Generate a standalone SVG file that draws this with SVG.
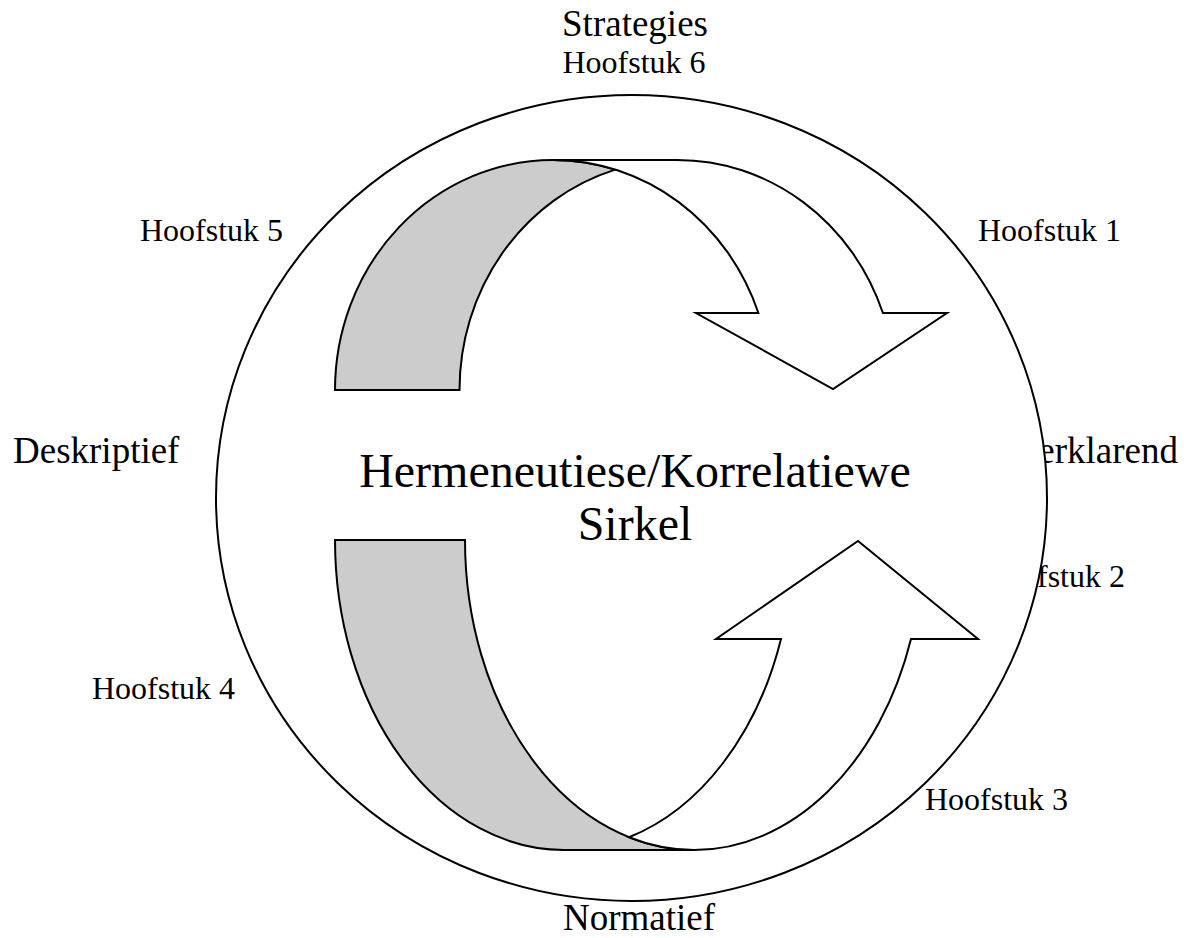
<svg xmlns="http://www.w3.org/2000/svg" width="1184" height="938" viewBox="0 0 1184 938">
  <style>
    .lbl { font-family: "Liberation Serif", "Times New Roman", serif; fill: #000; }
    .big { font-size: 37px; }
    .small { font-size: 32px; }
    .center { font-size: 48px; }
    .shape { stroke: #000; stroke-width: 2; stroke-linejoin: miter; }
    .white { fill: #ffffff; }
    .gray { fill: #cccccc; }
  </style>
  <rect width="1184" height="938" fill="#ffffff"/>
  <!-- labels partially hidden behind the circle -->
  <g id="label-verklarend"><text class="lbl big" x="1178" y="463" text-anchor="end">Verklarend</text></g>
  <g id="label-hoofstuk2"><text class="lbl small" x="1125" y="587" text-anchor="end">Hoofstuk 2</text></g>
  <g id="circle">
    <ellipse cx="631.5" cy="498" rx="415.5" ry="403" fill="#ffffff" stroke="#000" stroke-width="2"/>
  </g>
  <g id="connectors">
    <g id="top-arrow">
      <path class="shape gray" d="M 335,390 A 218 230 0 0 1 553,160 A 218 230 0 0 1 615.25,169.6 A 218 230 0 0 0 459.5,390 Z"/>
      <path class="shape white" d="M 553,160 L 677.5,160 A 218 230 0 0 1 882.9,313 L 947,313 L 833,389 L 696,313 L 758.4,313 A 218 230 0 0 0 553,160 Z"/>
    </g>
    <g id="bottom-arrow">
      <path class="shape gray" d="M 335,540 A 229 310 0 0 0 564,850 L 694,850 A 229 310 0 0 1 465,540 Z"/>
      <path class="shape white" d="M 629,837.25 A 229 310 0 0 0 694,850 A 229 310 0 0 0 911,639 L 978,639 L 858,541 L 716,639 L 781,639 A 229 310 0 0 1 629,837.25 Z"/>
    </g>
  </g>
  <g id="label-strategies"><text class="lbl big" x="635" y="36" text-anchor="middle">Strategies</text></g>
  <g id="label-hoofstuk6"><text class="lbl small" x="634" y="73" text-anchor="middle">Hoofstuk 6</text></g>
  <g id="label-hoofstuk5"><text class="lbl small" x="140" y="241">Hoofstuk 5</text></g>
  <g id="label-hoofstuk1"><text class="lbl small" x="978" y="241">Hoofstuk 1</text></g>
  <g id="label-deskriptief"><text class="lbl big" x="13" y="463">Deskriptief</text></g>
  <g id="label-hoofstuk4"><text class="lbl small" x="92" y="699">Hoofstuk 4</text></g>
  <g id="label-hoofstuk3"><text class="lbl small" x="925" y="810">Hoofstuk 3</text></g>
  <g id="label-normatief"><text class="lbl big" x="639" y="930" text-anchor="middle">Normatief</text></g>
  <g id="center-label">
    <text class="lbl center" x="635" y="487" text-anchor="middle">Hermeneutiese/Korrelatiewe</text>
    <text class="lbl center" x="635" y="540" text-anchor="middle">Sirkel</text>
  </g>
</svg>
